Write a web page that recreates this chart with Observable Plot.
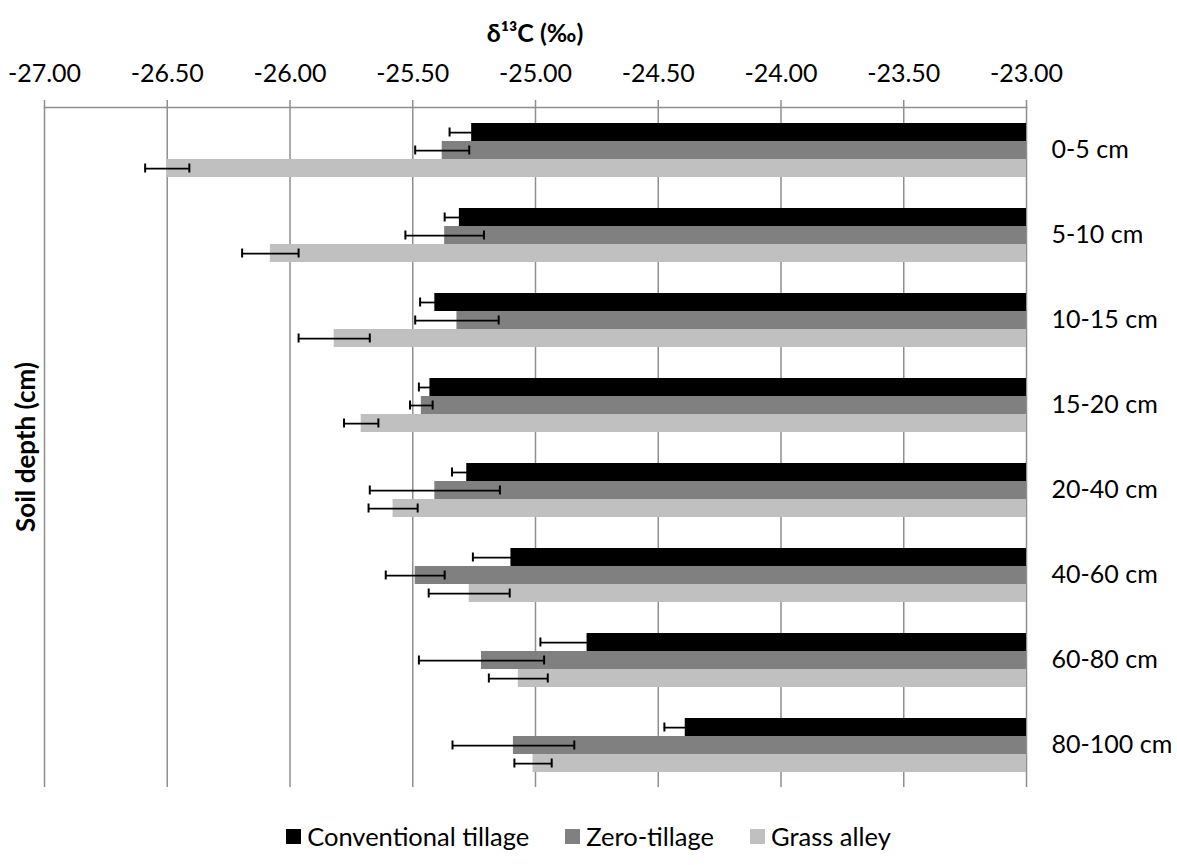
<!DOCTYPE html>
<html>
<head>
<meta charset="utf-8">
<script src="https://cdn.jsdelivr.net/npm/d3@7"></script>
<script src="https://cdn.jsdelivr.net/npm/@observablehq/plot@0.6"></script>
<style>
  body { margin: 0; background: #fff; font-family: Lato, "Open Sans", sans-serif; color: #000; }
  #wrap { position: relative; width: 1177px; height: 865px; overflow: hidden; }
  #chart { position: absolute; left: 0; top: 0; }
  .title { position: absolute; left: 385px; width: 300px; top: 17px; text-align: center; font-weight: bold; font-size: 25px; line-height: 30px; }
  .ylabel { position: absolute; left: 25px; top: 447px; transform: translate(-50%, -50%) rotate(-90deg); white-space: nowrap; font-weight: bold; font-size: 26px; line-height: 30px; }
  .legend { position: absolute; left: 0; width: 1177px; top: 821px; display: flex; justify-content: center; align-items: center; font-size: 25.5px; line-height: 30px; }
  .legend .item { display: flex; align-items: center; margin: 0 18px; }
  .legend .swatch { width: 15px; height: 15px; margin-right: 6px; }
</style>
</head>
<body>
<div id="wrap">
  <div id="chart"></div>
  <div class="title">δ¹³C (‰)</div>
  <div class="ylabel">Soil depth (cm)</div>
  <div class="legend" id="legend"></div>
</div>
<script>
// Soil depth classes (category axis, top to bottom)
const depths = ["0-5 cm", "5-10 cm", "10-15 cm", "15-20 cm", "20-40 cm", "40-60 cm", "60-80 cm", "80-100 cm"];

// Management systems and their fills
const seriesNames = ["Conventional tillage", "Zero-tillage", "Grass alley"];
const seriesColors = ["#000000", "#808080", "#c0c0c0"];

// Mean δ13C (‰) per depth and the error bar half-widths
const conventional    = [-25.26, -25.31, -25.41, -25.43, -25.28, -25.10, -24.79, -24.39];
const conventionalErr = [0.09, 0.06, 0.06, 0.045, 0.06, 0.155, 0.19, 0.085];
const zeroTillage     = [-25.38, -25.37, -25.32, -25.465, -25.41, -25.49, -25.22, -25.09];
const zeroTillageErr  = [0.11, 0.16, 0.17, 0.046, 0.265, 0.12, 0.255, 0.248];
const grassAlley      = [-26.50, -26.08, -25.82, -25.71, -25.58, -25.27, -25.07, -25.01];
const grassAlleyErr   = [0.09, 0.115, 0.145, 0.07, 0.10, 0.165, 0.12, 0.076];

// Value axis ticks
const xTicks = [-27, -26.5, -26, -25.5, -25, -24.5, -24, -23.5, -23];

const seriesValues = [conventional, zeroTillage, grassAlley];
const seriesErrors = [conventionalErr, zeroTillageErr, grassAlleyErr];

const rows = depths.flatMap((depth, i) =>
  seriesNames.map((series, s) => ({
    depth,
    series,
    value: seriesValues[s][i],
    err: seriesErrors[s][i]
  }))
);

const gridColor = "#8f8f8f";

const chart = Plot.plot({
  width: 1177,
  height: 795,
  marginLeft: 44,
  marginRight: 151,
  marginTop: 104,
  marginBottom: 6,
  style: { fontFamily: "Lato, 'Open Sans', sans-serif", fontSize: "25px", color: "#000", background: "#fff" },
  x: { domain: [-27, -23] },
  y: { domain: seriesNames, paddingInner: 0, paddingOuter: 0.75, axis: null },
  fy: { domain: depths, padding: 0 },
  color: { domain: seriesNames, range: seriesColors },
  marks: [
    // vertical gridlines, including the -27 and -23 edges
    Plot.ruleX(xTicks, { stroke: gridColor, strokeWidth: 1.5 }),
    // bars grow from the -23 baseline towards the value
    Plot.barX(rows, { fy: "depth", y: "series", x1: -23, x2: "value", fill: "series" }),
    // error bars
    Plot.ruleY(rows, {
      fy: "depth", y: "series",
      x1: d => d.value - d.err, x2: d => d.value + d.err,
      stroke: "#000", strokeWidth: 1.75
    }),
    Plot.tickX(rows, { fy: "depth", y: "series", x: d => d.value - d.err, insetTop: 4.5, insetBottom: 4.5, stroke: "#000", strokeWidth: 2 }),
    Plot.tickX(rows, { fy: "depth", y: "series", x: d => d.value + d.err, insetTop: 4.5, insetBottom: 4.5, stroke: "#000", strokeWidth: 2 }),
    // value axis line along the top
    Plot.frame({ anchor: "top", facetAnchor: "top", stroke: gridColor, strokeWidth: 1.5 }),
    Plot.axisX({
      anchor: "top", ticks: xTicks, tickFormat: d => d.toFixed(2),
      tickSize: 8, tickPadding: 18, stroke: gridColor, strokeWidth: 1.5, label: null
    }),
    Plot.axisFy({ anchor: "right", tickSize: 0, tickPadding: 25, label: null })
  ]
});

document.getElementById("chart").appendChild(chart);

// legend
const legend = document.getElementById("legend");
seriesNames.forEach((name, i) => {
  const item = document.createElement("div");
  item.className = "item";
  const sw = document.createElement("span");
  sw.className = "swatch";
  sw.style.background = seriesColors[i];
  const label = document.createElement("span");
  label.textContent = name;
  item.appendChild(sw);
  item.appendChild(label);
  legend.appendChild(item);
});
</script>
</body>
</html>
